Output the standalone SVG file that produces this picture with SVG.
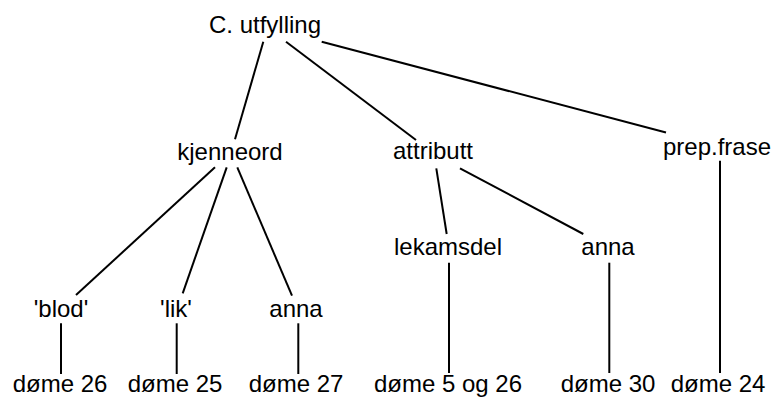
<svg xmlns="http://www.w3.org/2000/svg" width="774" height="397" viewBox="0 0 774 397">
<style>
text{font-family:"Liberation Sans",Arial,Helvetica,sans-serif;font-size:24px;fill:#000;text-anchor:middle}
.c line{stroke:#000;stroke-width:2;stroke-linecap:butt}
</style>
<rect width="774" height="397" fill="#fff"/>
<g class="c" id="connectors">
<line x1="263.3" y1="41.7" x2="235" y2="139.3"/>
<line x1="286" y1="41.7" x2="416" y2="140"/>
<line x1="321.7" y1="41.7" x2="666" y2="132.5"/>
<line x1="215" y1="167.3" x2="76" y2="295"/>
<line x1="226.7" y1="167.3" x2="182.7" y2="293.3"/>
<line x1="237.3" y1="167.3" x2="292" y2="295.7"/>
<line x1="436.3" y1="168.3" x2="446.7" y2="234"/>
<line x1="460" y1="168.3" x2="583.3" y2="234"/>
<line x1="720" y1="160.7" x2="720" y2="373"/>
<line x1="449" y1="262.7" x2="449" y2="373"/>
<line x1="609.3" y1="262.7" x2="609.3" y2="373"/>
<line x1="61" y1="323.3" x2="61" y2="374"/>
<line x1="176.7" y1="323.3" x2="176.7" y2="374"/>
<line x1="298.3" y1="323.3" x2="298.3" y2="374"/>
</g>
<g id="n-root"><text x="265" y="33">C. utfylling</text></g>
<g id="n-kjenneord"><text x="230" y="160">kjenneord</text></g>
<g id="n-attributt"><text x="433" y="159">attributt</text></g>
<g id="n-prepfrase"><text x="717" y="155">prep.frase</text></g>
<g id="n-lekamsdel"><text x="448" y="255">lekamsdel</text></g>
<g id="n-anna2"><text x="608" y="255">anna</text></g>
<g id="n-blod"><text x="61" y="317">'blod'</text></g>
<g id="n-lik"><text x="176" y="317">'lik'</text></g>
<g id="n-anna1"><text x="296" y="317">anna</text></g>
<g id="n-d26"><text x="60" y="392">døme 26</text></g>
<g id="n-d25"><text x="175" y="392">døme 25</text></g>
<g id="n-d27"><text x="296" y="392">døme 27</text></g>
<g id="n-d5og26"><text x="448" y="392">døme 5 og 26</text></g>
<g id="n-d30"><text x="608" y="392">døme 30</text></g>
<g id="n-d24"><text x="718" y="392">døme 24</text></g>
</svg>
